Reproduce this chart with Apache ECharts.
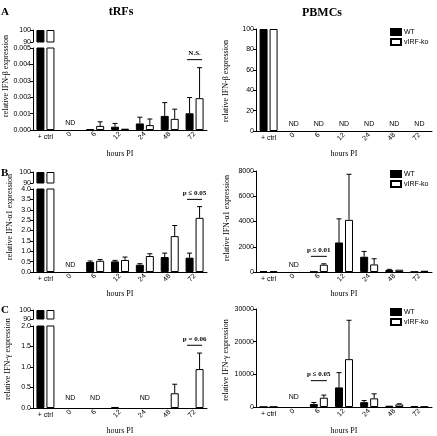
<!DOCTYPE html>
<html>
<head>
<meta charset="utf-8">
<script src="https://cdn.jsdelivr.net/npm/echarts@6/dist/echarts.min.js"></script>
<style>
  html, body { margin: 0; padding: 0; background: #fff; }
  #chart { width: 437px; height: 436px; }
</style>
</head>
<body>
<div id="chart"></div>
<script>
const hours = ['+ ctrl', '0', '6', '12', '24', '48', '72'];

// A - IFN-beta
const betaTrfWT = [100, '-', 0.00005, 0.0002, 0.0004, 0.00086, 0.00102];
const betaTrfKO = [100, '-', 0.00025, 0.00008, 0.0003, 0.00068, 0.00194];
const betaTrfWTErr = [null, null, null, 0.0004, 0.00078, 0.00167, 0.00198];
const betaTrfKOErr = [null, null, 0.0005, null, 0.00067, 0.00127, 0.0038];
const betaTrfND = [1];
const betaTrfSig = [[6, 0.00429]];
const betaTrfSigText = ['N.S.'];

const betaPbmcWT = [100, '-', '-', '-', '-', '-', '-'];
const betaPbmcKO = [100, '-', '-', '-', '-', '-', '-'];
const betaPbmcND = [1, 2, 3, 4, 5, 6];

// B - IFN-alpha1
const alphaTrfWT = [100, '-', 0.48, 0.51, 0.35, 0.72, 0.69];
const alphaTrfKO = [100, '-', 0.54, 0.58, 0.77, 1.73, 2.61];
const alphaTrfWTErr = [null, null, 0.53, 0.56, 0.4, 0.91, 0.91];
const alphaTrfKOErr = [null, null, 0.6, 0.72, 0.88, 2.24, 3.15];
const alphaTrfND = [1];
const alphaTrfSig = [[6, 3.5]];
const alphaTrfSigText = ['p \u2264 0.05'];

const alphaPbmcWT = [80, '-', 30, 2340, 1210, 160, 20];
const alphaPbmcKO = [80, '-', 580, 4130, 600, 180, 100];
const alphaPbmcWTErr = [null, null, null, 4210, 1630, 210, null];
const alphaPbmcKOErr = [null, null, 650, 7740, 1050, null, null];
const alphaPbmcND = [1];
const alphaPbmcSig = [[2, 1240]];
const alphaPbmcSigText = ['p \u2264 0.01'];

// C - IFN-gamma
const gammaTrfWT = [100, '-', '-', 0.025, '-', '-', '-'];
const gammaTrfKO = [100, '-', '-', '-', '-', 0.36, 0.95];
const gammaTrfWTErr = [null, null, null, null, null, null, null];
const gammaTrfKOErr = [null, null, null, null, null, 0.58, 1.34];
const gammaTrfND = [1, 2, 4];
const gammaTrfSig = [[6, 1.53]];
const gammaTrfSigText = ['p = 0.06'];

const gammaPbmcWT = [60, '-', 890, 6000, 1470, 390, 290];
const gammaPbmcKO = [60, '-', 2850, 14650, 2650, 790, 100];
const gammaPbmcWTErr = [null, null, 1380, 10520, 1970, null, null];
const gammaPbmcKOErr = [null, null, 3640, 26550, 4030, 980, null];
const gammaPbmcND = [1];
const gammaPbmcSig = [[2, 8060]];
const gammaPbmcSigText = ['p \u2264 0.05'];

const sans = '"Liberation Sans", Arial, sans-serif';
const serif = '"Liberation Serif", "Times New Roman", serif';
const BAR_W = 8;
const OFF = 5;

const option = {
  animation: false,
  backgroundColor: '#fff',
  grid: [], xAxis: [], yAxis: [], series: [], legend: [], graphic: []
};

function yAxisStyle(grid, min, max, interval, fmt) {
  return {
    gridIndex: grid, type: 'value', min: min, max: max, interval: interval,
    splitLine: { show: false },
    axisLine: { show: true, lineStyle: { color: '#000', width: 1 } },
    axisTick: { show: true, length: 3, lineStyle: { color: '#000' } },
    axisLabel: { fontSize: 7, color: '#000', fontFamily: sans, margin: 2, formatter: fmt }
  };
}

function barPair(xi, yi, wt, ko) {
  option.series.push({
    type: 'bar', name: 'WT', xAxisIndex: xi, yAxisIndex: yi, data: wt,
    barWidth: BAR_W, barGap: '25%',
    itemStyle: { color: '#000', borderColor: '#000', borderWidth: 1 }
  });
  option.series.push({
    type: 'bar', name: 'vIRF-ko', xAxisIndex: xi, yAxisIndex: yi, data: ko,
    barWidth: BAR_W, barGap: '25%',
    itemStyle: { color: '#fff', borderColor: '#000', borderWidth: 1 }
  });
}

function errSeries(xi, yi, vals, errs, off) {
  const data = [];
  errs.forEach((e, i) => { if (e != null) data.push([i, vals[i], e]); });
  option.series.push({
    type: 'custom', xAxisIndex: xi, yAxisIndex: yi, data: data, silent: true,
    renderItem: (params, api) => {
      const p0 = api.coord([api.value(0), api.value(1)]);
      const p1 = api.coord([api.value(0), api.value(2)]);
      const cx = p0[0] + off;
      const st = { stroke: '#000', lineWidth: 1 };
      return { type: 'group', children: [
        { type: 'line', shape: { x1: cx, y1: p0[1], x2: cx, y2: p1[1] }, style: st },
        { type: 'line', shape: { x1: cx - 2.5, y1: p1[1], x2: cx + 2.5, y2: p1[1] }, style: st }
      ] };
    }
  });
}

function ndSeries(xi, yi, cats, gap) {
  option.series.push({
    type: 'custom', xAxisIndex: xi, yAxisIndex: yi, silent: true,
    data: cats.map(c => [c, 0]),
    renderItem: (params, api) => {
      const p = api.coord([api.value(0), 0]);
      return { type: 'text', x: p[0], y: p[1] - gap,
        style: { text: 'ND', font: '7px ' + sans, fill: '#000', align: 'center', verticalAlign: 'bottom' } };
    }
  });
}

function sigSeries(xi, yi, sig, texts, half) {
  option.series.push({
    type: 'custom', xAxisIndex: xi, yAxisIndex: yi, silent: true, data: sig,
    renderItem: (params, api) => {
      const p = api.coord([api.value(0), api.value(1)]);
      return { type: 'group', children: [
        { type: 'line', shape: { x1: p[0] - half, y1: p[1], x2: p[0] + half, y2: p[1] },
          style: { stroke: '#000', lineWidth: 1 } },
        { type: 'text', x: p[0], y: p[1] - 3,
          style: { text: texts[params.dataIndex], font: 'bold 7px ' + serif, fill: '#000',
            align: 'center', verticalAlign: 'bottom' } }
      ] };
    }
  });
}

function addPanel(cfg) {
  const g = option.grid.length;
  option.grid.push({ left: cfg.left, width: cfg.width, top: cfg.top, height: cfg.height });
  const xi = option.xAxis.length;
  option.xAxis.push({
    gridIndex: g, type: 'category', data: hours,
    name: 'hours PI', nameLocation: 'middle', nameGap: cfg.nameGap,
    nameTextStyle: { fontFamily: serif, fontSize: 8, color: '#000' },
    axisLine: { lineStyle: { color: '#000', width: 1 } },
    axisTick: { alignWithLabel: true, length: 3, lineStyle: { color: '#000' } },
    axisLabel: { interval: 0, rotate: 45, fontSize: 7, color: '#000', fontFamily: sans, margin: 3,
      formatter: v => (v === '+ ctrl' ? '' : v) }
  });
  option.xAxis.push({
    gridIndex: g, type: 'category', data: hours, position: 'bottom',
    axisLine: { show: false }, axisTick: { show: false },
    axisLabel: { interval: 0, fontSize: 7, color: '#000', fontFamily: sans, margin: 4,
      formatter: v => (v === '+ ctrl' ? v : '') }
  });
  const yi = option.yAxis.length;
  option.yAxis.push(yAxisStyle(g, 0, cfg.max, cfg.interval, cfg.fmt));
  barPair(xi, yi, cfg.wt, cfg.ko);
  if (cfg.wtErr) errSeries(xi, yi, cfg.wt, cfg.wtErr, -OFF);
  if (cfg.koErr) errSeries(xi, yi, cfg.ko, cfg.koErr, OFF);
  if (cfg.nd) ndSeries(xi, yi, cfg.nd, cfg.ndGap);
  if (cfg.sig) sigSeries(xi, yi, cfg.sig, cfg.sigText, cfg.sigHalf);

  if (cfg.breakTop != null) {
    const tg = option.grid.length;
    option.grid.push({ left: cfg.left, width: cfg.width, top: cfg.breakTop, height: cfg.breakHeight });
    const txi = option.xAxis.length;
    option.xAxis.push({ gridIndex: tg, type: 'category', data: hours, show: false });
    const tyi = option.yAxis.length;
    option.yAxis.push(yAxisStyle(tg, 90, 100, 10, v => v));
    barPair(txi, tyi, cfg.wt.map(v => (v >= 90 ? v : '-')), cfg.ko.map(v => (v >= 90 ? v : '-')));
  }

  option.graphic.push({
    type: 'text', x: cfg.yNameX, y: cfg.yNameY, rotation: Math.PI / 2,
    style: { text: cfg.yName, font: '8px ' + serif, fill: '#000', align: 'center', verticalAlign: 'middle' }
  });
}

const L = { left: 33, width: 174 };
const R = { left: 256, width: 176 };

addPanel({ ...L, top: 48, height: 82, breakTop: 30, breakHeight: 12, max: 0.005, interval: 0.001,
  fmt: v => v.toFixed(3), wt: betaTrfWT, ko: betaTrfKO, wtErr: betaTrfWTErr, koErr: betaTrfKOErr,
  nd: betaTrfND, ndGap: 3, sig: betaTrfSig, sigText: betaTrfSigText, sigHalf: 7.5, nameGap: 20,
  yName: 'relative IFN-\u03b2 expression', yNameX: 6, yNameY: 76 });
addPanel({ ...R, top: 29, height: 102, max: 100, interval: 20, fmt: v => v,
  wt: betaPbmcWT, ko: betaPbmcKO, nd: betaPbmcND, ndGap: 3, nameGap: 19,
  yName: 'relative IFN-\u03b2 expression', yNameX: 226, yNameY: 81 });

addPanel({ ...L, top: 189, height: 83, breakTop: 172, breakHeight: 11, max: 4, interval: 0.5,
  fmt: v => v.toFixed(1), wt: alphaTrfWT, ko: alphaTrfKO, wtErr: alphaTrfWTErr, koErr: alphaTrfKOErr,
  nd: alphaTrfND, ndGap: 3, sig: alphaTrfSig, sigText: alphaTrfSigText, sigHalf: 7.5, nameGap: 18,
  yName: 'relative IFN-\u03b11 expression', yNameX: 10, yNameY: 217 });
addPanel({ ...R, top: 171, height: 101, max: 8000, interval: 2000, fmt: v => v,
  wt: alphaPbmcWT, ko: alphaPbmcKO, wtErr: alphaPbmcWTErr, koErr: alphaPbmcKOErr,
  nd: alphaPbmcND, ndGap: 3, sig: alphaPbmcSig, sigText: alphaPbmcSigText, sigHalf: 8, nameGap: 18,
  yName: 'relative IFN-\u03b11 expression', yNameX: 227, yNameY: 218 });

addPanel({ ...L, top: 326, height: 86, breakTop: 310, breakHeight: 9, max: 2, interval: 0.5,
  fmt: v => v.toFixed(1), wt: gammaTrfWT, ko: gammaTrfKO, wtErr: gammaTrfWTErr, koErr: gammaTrfKOErr,
  nd: gammaTrfND, ndGap: 6, sig: gammaTrfSig, sigText: gammaTrfSigText, sigHalf: 7.5, nameGap: 19,
  yName: 'relative IFN-\u03b3 expression', yNameX: 8, yNameY: 359 });
addPanel({ ...R, top: 309, height: 102, max: 30000, interval: 10000, fmt: v => v,
  wt: gammaPbmcWT, ko: gammaPbmcKO, wtErr: gammaPbmcWTErr, koErr: gammaPbmcKOErr,
  nd: gammaPbmcND, ndGap: 6, sig: gammaPbmcSig, sigText: gammaPbmcSigText, sigHalf: 8, nameGap: 20,
  yName: 'relative IFN-\u03b3 expression', yNameX: 226, yNameY: 360 });

[28, 170, 308].forEach(t => {
  option.legend.push({
    top: t, left: 390, orient: 'vertical', padding: 0, itemGap: 2,
    itemWidth: 10, itemHeight: 6, icon: 'rect', selectedMode: false,
    textStyle: { fontSize: 7, color: '#000', fontFamily: sans, padding: [0, 0, 0, -2] },
    data: ['WT', 'vIRF-ko']
  });
});

// titles and panel letters
[['tRFs', 121, 12], ['PBMCs', 322, 13]].forEach(t => option.graphic.push({
  type: 'text', x: t[1], y: t[2],
  style: { text: t[0], font: 'bold 12px ' + serif, fill: '#000', align: 'center', verticalAlign: 'middle' }
}));
[['A', 1, 12], ['B', 1, 173], ['C', 1, 310]].forEach(t => option.graphic.push({
  type: 'text', x: t[1], y: t[2],
  style: { text: t[0], font: 'bold 11px ' + serif, fill: '#000', align: 'left', verticalAlign: 'middle' }
}));

const chart = echarts.init(document.getElementById('chart'), null, { renderer: 'canvas' });
chart.setOption(option);
</script>
</body>
</html>
